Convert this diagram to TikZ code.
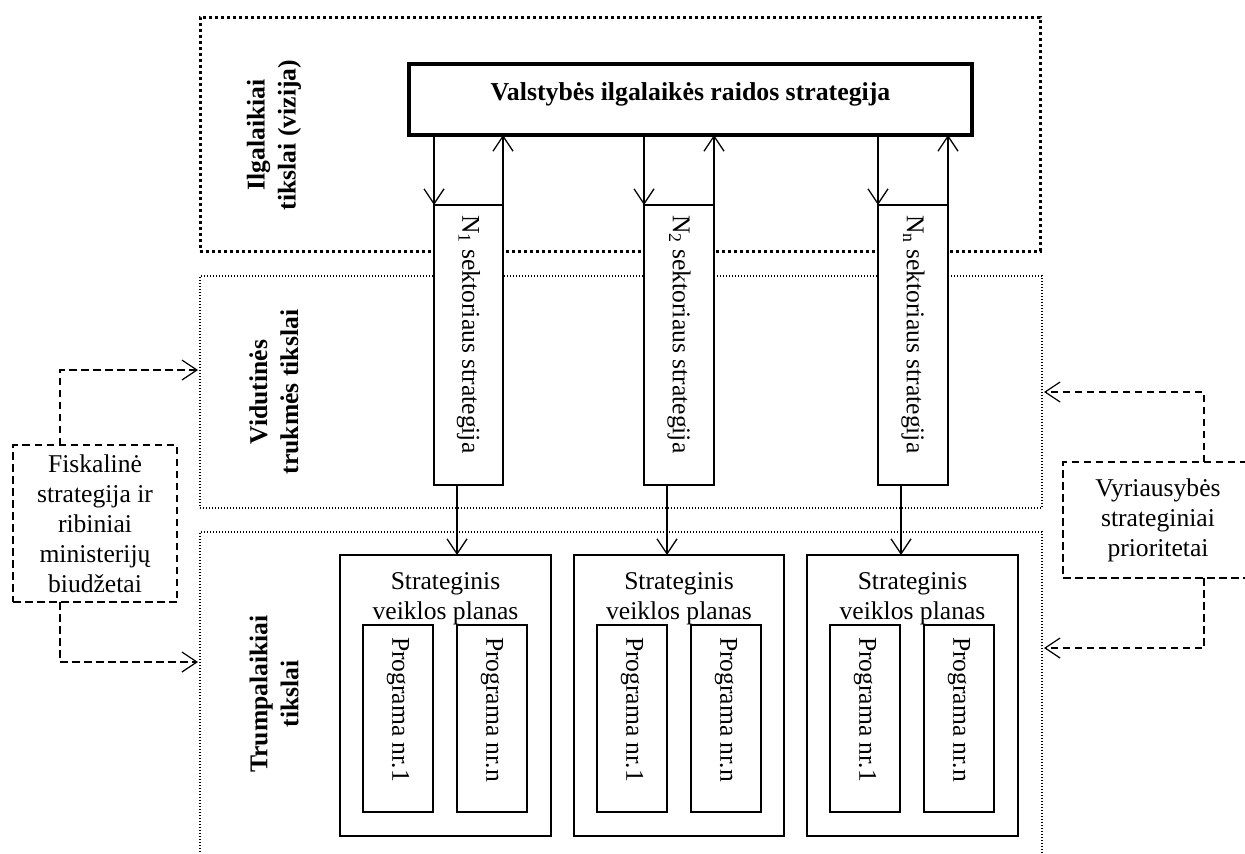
\documentclass[tikz,border=0pt]{standalone}
\usepackage{fontspec}
\setmainfont{Liberation Serif}
\usetikzlibrary{arrows.meta,calc}

\begin{document}
\begin{tikzpicture}[x=1pt,y=-1pt,
  every node/.style={font=\fontsize{25.6}{30}\selectfont, inner sep=0pt, outer sep=0pt},
  solidbox/.style={draw, fill=white, line width=1.3pt, anchor=north west},
  mainbox/.style={draw, fill=white, line width=3.2pt, anchor=north west},
  tierheavy/.style={draw, line width=3pt, dash pattern=on 3pt off 3pt, anchor=north west},
  tierfine/.style={draw, line width=1.2pt, dash pattern=on 1.2pt off 1.8pt, anchor=north west},
  dashbox/.style={draw, line width=1.2pt, dash pattern=on 7.5pt off 4.5pt, align=center},
  flow/.style={line width=1.3pt, -{Straight Barb[length=15pt,width=20pt]}},
  feed/.style={line width=1.2pt, dash pattern=on 7.5pt off 4.5pt,
    -{Straight Barb[length=15pt,width=20pt]}, shorten >=2pt},
  tierlabel/.style={rotate=90, align=center, font=\fontsize{25.6}{31}\selectfont\bfseries},
  vtext/.style={rotate=-90, anchor=west},
  plantitle/.style={anchor=north, align=center}
]
\path[use as bounding box] (0,0) rectangle (1245,854);
\clip (0,0) rectangle (1245,854);

% three planning tiers
\node[tierheavy, minimum width=840pt, minimum height=234pt] (ttop) at (200,17) {};
\node[tierfine, minimum width=842pt, minimum height=232pt] (tmid) at (200,276) {};
\node[tierfine, minimum width=842pt, minimum height=340pt] (tbot) at (200,532) {};

\node[tierlabel] (ltop) at (274,135) {Ilgalaikiai\\tikslai (vizija)};
\node[tierlabel] (lmid) at (274,392) {Vidutinės\\trukmės tikslai};
\node[tierlabel] (lbot) at (274,694) {Trumpalaikiai\\tikslai};

% national long-term strategy
\node[mainbox, minimum width=563pt, minimum height=71pt] (main) at (409,64) {};
\node[font=\fontsize{25.8}{30}\selectfont\bfseries] (maint) at (690.5,94)
  {Valstybės ilgalaikės raidos strategija};

% sector strategies
\node[solidbox, minimum width=69pt, minimum height=280pt] (n1) at (434,205) {};
\node[solidbox, minimum width=70pt, minimum height=280pt] (n2) at (644,205) {};
\node[solidbox, minimum width=70pt, minimum height=280pt] (n3) at (878,205) {};
\node[vtext] (n1t) at ($(n1.north)+(0,10)$) {N\textsubscript{1} sektoriaus strategija};
\node[vtext] (n2t) at ($(n2.north)+(0,10)$) {N\textsubscript{2} sektoriaus strategija};
\node[vtext] (n3t) at ($(n3.north)+(0,10)$) {N\textsubscript{n} sektoriaus strategija};

\foreach \s in {n1,n2,n3}{
  \draw[flow] (\s.north west |- main.south) -- (\s.north west);
  \draw[flow] (\s.north east) -- (\s.north east |- main.south);
}

% strategic action plans with their programmes
\foreach \p/\x/\w in {p1/340/211, p2/574/210, p3/807/211}{
  \node[solidbox, minimum width=\w pt, minimum height=281pt] (\p) at (\x,555) {};
  \node[plantitle] (\p t) at ($(\p.north)+(0,18)$) {Strateginis\\veiklos planas};
  \node[solidbox, fill=none, minimum width=70pt, minimum height=187pt] (\p a) at ($(\p.north west)+(23,70)$) {};
  \node[solidbox, fill=none, minimum width=70pt, minimum height=187pt] (\p b) at ($(\p.north west)+(117,70)$) {};
  \node[vtext] (\p at) at ($(\p a.north)+(0,12)$) {Programa nr.1};
  \node[vtext] (\p bt) at ($(\p b.north)+(0,12)$) {Programa nr.n};
}

\foreach \s/\p in {n1/p1, n2/p2, n3/p3}{
  \coordinate (\s d) at ($(\s.south west)+(23,0)$);
  \draw[flow] (\s d) -- (\s d |- \p.north);
}

% external inputs
\node[dashbox, minimum width=164pt, minimum height=157pt] (fis) at (95,523.5)
  {Fiskalinė\\strategija ir\\ribiniai\\ministerijų\\biudžetai};
\node[dashbox, minimum width=190pt, minimum height=116pt] (vyr) at (1158,520)
  {Vyriausybės\\strateginiai\\prioritetai};

\coordinate (fu) at (60,370);
\coordinate (fd) at (60,662);
\coordinate (vu) at (1204,392);
\coordinate (vd) at (1204,648);
\draw[feed] (fis.north -| fu) -- (fu) -- (tmid.west |- fu);
\draw[feed] (fis.south -| fd) -- (fd) -- (tbot.west |- fd);
\draw[feed] (vyr.north -| vu) -- (vu) -- (tmid.east |- vu);
\draw[feed] (vyr.south -| vd) -- (vd) -- (tbot.east |- vd);
\end{tikzpicture}
\end{document}
